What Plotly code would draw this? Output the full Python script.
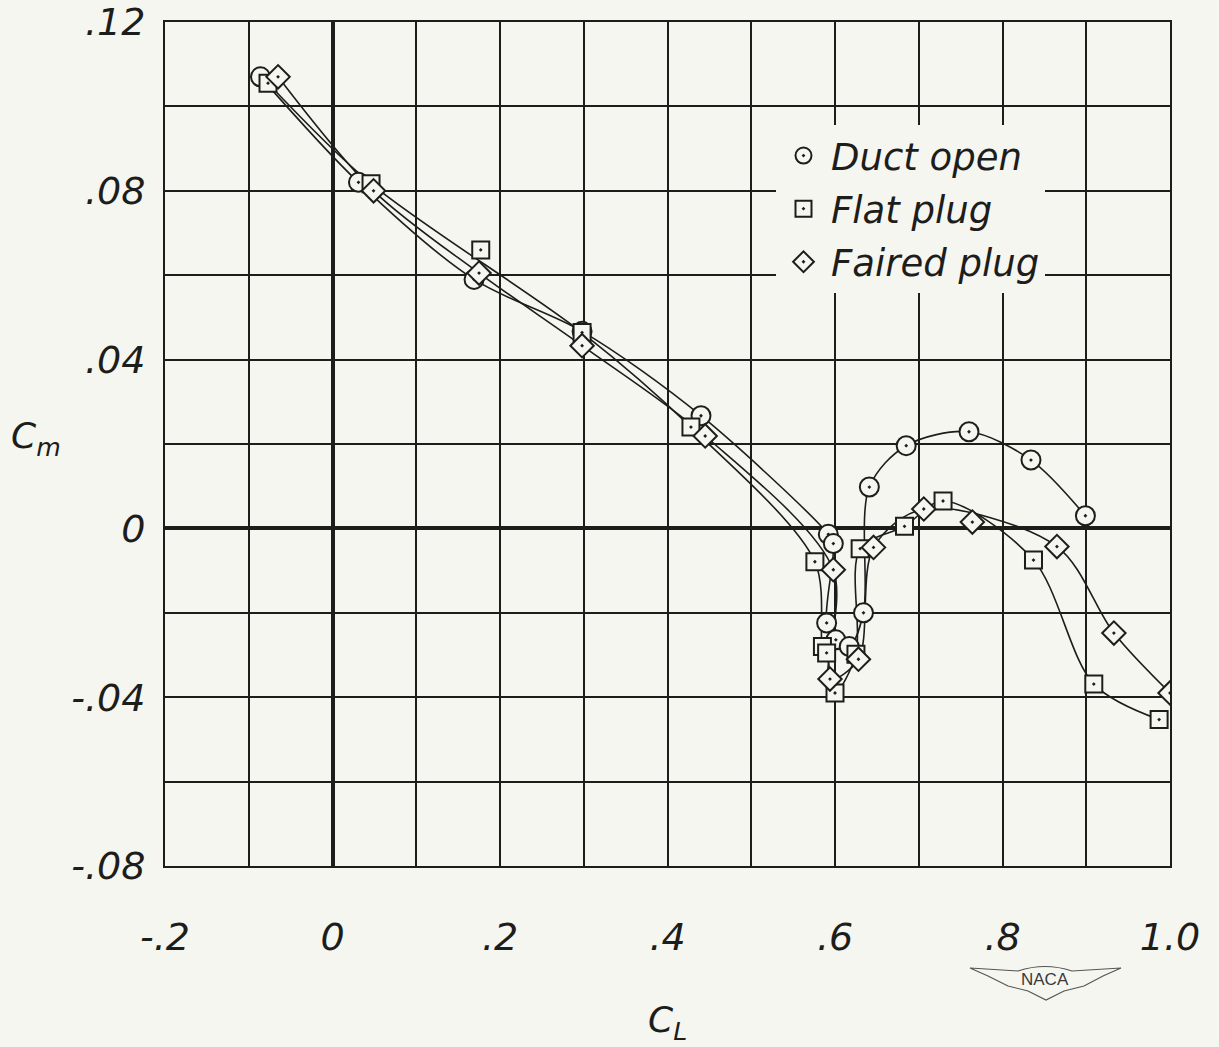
import plotly.graph_objects as go

# ---------------- data ----------------
DUCT_CL = [-0.086, 0.031, 0.169, 0.298, 0.440, 0.592, 0.598, 0.590, 0.601, 0.617, 0.634, 0.641, 0.685, 0.760, 0.834, 0.899]
DUCT_CM = [0.107, 0.082, 0.059, 0.0467, 0.0267, -0.0014, -0.0036, -0.0224, -0.0264, -0.028, -0.020, 0.0098, 0.0196, 0.0229, 0.0162, 0.003]

FLAT_CL = [-0.077, 0.046, 0.177, 0.298, 0.428, 0.576, 0.585, 0.590, 0.600, 0.625, 0.630, 0.683, 0.729, 0.837, 0.909, 0.987]
FLAT_CM = [0.1055, 0.0817, 0.066, 0.0464, 0.024, -0.0079, -0.028, -0.0295, -0.039, -0.0298, -0.0048, 0.0005, 0.0065, -0.0075, -0.0369, -0.0453]

FAIRED_CL = [-0.065, 0.049, 0.175, 0.298, 0.445, 0.598, 0.594, 0.628, 0.646, 0.706, 0.764, 0.865, 0.933, 1.000]
FAIRED_CM = [0.107, 0.080, 0.0605, 0.0433, 0.0219, -0.0098, -0.0357, -0.031, -0.0045, 0.0046, 0.0015, -0.0043, -0.0248, -0.039]

# points that the faired curves do not pass through
DUCT_OFF_CURVE = []
FLAT_OFF_CURVE = [2]
FAIRED_OFF_CURVE = [10]

SERIES_NAMES = ["Duct open", "Flat plug", "Faired plug"]

X_TICKS = [-0.2, -0.1, 0.0, 0.1, 0.2, 0.3, 0.4, 0.5, 0.6, 0.7, 0.8, 0.9, 1.0]
X_LABELS = ["-.2", "", "0", "", ".2", "", ".4", "", ".6", "", ".8", "", "1.0"]
Y_TICKS = [-0.08, -0.06, -0.04, -0.02, 0.0, 0.02, 0.04, 0.06, 0.08, 0.10, 0.12]
Y_LABELS = ["-.08", "", "-.04", "", "0", "", ".04", "", ".08", "", ".12"]

# ---------------- style ----------------
PAPER = "#f6f6f1"
INK = "#1d1d1b"
FONT = "DejaVu Sans"

W, H = 1219, 1047
ML, MR, MT, MB = 165, 49, 22, 181
PW, PH = W - ML - MR, H - MT - MB


def px(xp):
    return (xp - ML) / PW


def py(yp):
    return (H - MB - yp) / PH


fig = go.Figure()

series = [
    (SERIES_NAMES[0], DUCT_CL, DUCT_CM, DUCT_OFF_CURVE, "circle-dot", 19),
    (SERIES_NAMES[1], FLAT_CL, FLAT_CM, FLAT_OFF_CURVE, "square-dot", 17),
    (SERIES_NAMES[2], FAIRED_CL, FAIRED_CM, FAIRED_OFF_CURVE, "diamond-dot", 18),
]

for name, xs, ys, off, sym, size in series:
    cx = [x for i, x in enumerate(xs) if i not in off]
    cy = [y for i, y in enumerate(ys) if i not in off]
    fig.add_trace(go.Scatter(
        x=cx, y=cy, mode="lines",
        line=dict(color=INK, width=1.6, shape="spline", smoothing=0.9),
        showlegend=False, hoverinfo="skip",
    ))

for k, (name, xs, ys, off, sym, size) in enumerate(series):
    fig.add_trace(go.Scatter(
        x=xs, y=ys, mode="markers", name=name, legendgroup=f"g{k}",
        marker=dict(symbol=sym, size=size, color=PAPER,
                    line=dict(color=INK, width=2)),
    ))

axis_common = dict(
    showgrid=True, gridcolor=INK, gridwidth=2,
    zeroline=True, zerolinecolor=INK, zerolinewidth=4,
    showline=True, mirror=True, linecolor=INK, linewidth=2,
    ticks="", automargin=False,
    tickfont=dict(family=FONT, size=38, color=INK, style="italic"),
)

wing = ("M {a},{b} L {c},{d} Q {e},{f} {g},{h} L {i},{j} L {k},{l} L {m},{n} L {o},{p} "
        "L {q},{r} L {s},{t} L {u},{v} L {w},{x} Z").format(
    a=px(970), b=py(968), c=px(1018), d=py(971), e=px(1045), f=py(962), g=px(1072), h=py(971),
    i=px(1121), j=py(968), k=px(1103), l=py(976), m=px(1084), n=py(986), o=px(1064), p=py(991),
    q=px(1046), r=py(1000), s=px(1028), t=py(991), u=px(1008), v=py(986), w=px(988), x=py(976))

fig.update_layout(
    width=W, height=H,
    margin=dict(l=ML, r=MR, t=MT, b=MB, autoexpand=False),
    paper_bgcolor=PAPER, plot_bgcolor=PAPER,
    xaxis=dict(range=[-0.2, 1.0], tickmode="array", tickvals=X_TICKS, ticktext=X_LABELS,
               ticklabelstandoff=36, **axis_common),
    yaxis=dict(range=[-0.08, 0.12], tickmode="array", tickvals=Y_TICKS, ticktext=Y_LABELS,
               ticklabelstandoff=10, **axis_common),
    legend=dict(
        x=px(776), y=py(125), xanchor="left", yanchor="top",
        bgcolor=PAPER, borderwidth=0,
        font=dict(family=FONT, size=37, color=INK, style="italic"),
        tracegroupgap=2, traceorder="grouped",
        itemsizing="trace", itemwidth=45,
    ),
    showlegend=True,
    annotations=[
        dict(x=px(36), y=py(438), xref="paper", yref="paper", showarrow=False,
             xanchor="center", yanchor="middle",
             text="C<sub>m</sub>", font=dict(family=FONT, size=36, color=INK, style="italic")),
        dict(x=px(667), y=py(1022), xref="paper", yref="paper", showarrow=False,
             xanchor="center", yanchor="middle",
             text="C<sub>L</sub>", font=dict(family=FONT, size=36, color=INK, style="italic")),
        dict(x=px(1045), y=py(979), xref="paper", yref="paper", showarrow=False,
             xanchor="center", yanchor="middle",
             text="NACA", font=dict(family="Liberation Sans Narrow, Liberation Sans", size=17, color="#3a3a3a")),
    ],
    shapes=[
        dict(type="path", xref="paper", yref="paper", path=wing,
             line=dict(color="#555555", width=1.2), fillcolor="rgba(0,0,0,0)"),
    ],
)

fig.write_html("out.html")
